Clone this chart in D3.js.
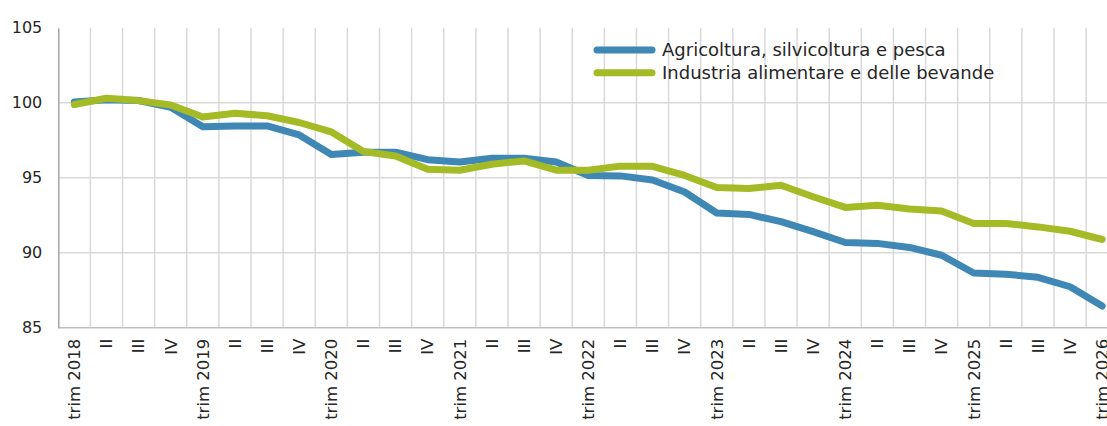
<!DOCTYPE html>
<html>
<head>
<meta charset="utf-8">
<script src="https://cdn.jsdelivr.net/npm/d3@7"></script>
<style>
  body { margin: 0; background: #fff; }
  svg { display: block; font-family: "DejaVu Sans", sans-serif; }
</style>
</head>
<body>
<div id="chart"></div>
<script>
// quarters I trim 2018 .. I trim 2026
const years = [2018, 2019, 2020, 2021, 2022, 2023, 2024, 2025, 2026]
const quarterNames = ["I", "II", "III", "IV"]

let quarters = []
years.forEach(y => {
    quarterNames.forEach((q, j) => {
        if (y == 2026 && j > 0) return
        quarters.push(j == 0 ? "I trim " + y : q)
    })
})

const agricoltura = [100.05, 100.2, 100.15, 99.7, 98.4, 98.45, 98.45, 97.85, 96.55, 96.7, 96.7, 96.2,
    96.05, 96.3, 96.3, 96.05, 95.15, 95.12, 94.85, 94.05, 92.65, 92.55, 92.07, 91.4,
    90.68, 90.62, 90.35, 89.83, 88.65, 88.57, 88.36, 87.73, 86.45]
const industria = [99.88, 100.3, 100.14, 99.85, 99.05, 99.3, 99.13, 98.68, 98.05, 96.75, 96.45, 95.56,
    95.5, 95.9, 96.12, 95.5, 95.5, 95.77, 95.76, 95.15, 94.35, 94.28, 94.5, 93.73,
    93.02, 93.17, 92.92, 92.78, 91.95, 91.95, 91.72, 91.43, 90.88]

const yTicks = [85, 90, 95, 100, 105]

const seriesNames = ["Agricoltura, silvicoltura e pesca", "Industria alimentare e delle bevande"]
const colors = ["#3f88b6", "#a5bb26"]

let margin = {top: 27.7, left: 58.3}
let width = 1107
let height = 426
let plotBottom = 327.7
let band = 32.12

let svg = d3.select("#chart")
    .append("svg")
    .attr("width", width)
    .attr("height", height)

let xScale = d3.scaleBand()
    .domain(d3.range(quarters.length))
    .range([margin.left, margin.left + band * quarters.length])
    .padding(0)

let yScale = d3.scaleLinear()
    .domain([85, 105])
    .range([plotBottom, margin.top])

// vertical gridlines at band boundaries
svg.append("g")
    .selectAll("line")
    .data(d3.range(1, quarters.length + 1))
    .join("line")
    .attr("x1", d => xScale.step() * d + margin.left)
    .attr("x2", d => xScale.step() * d + margin.left)
    .attr("y1", margin.top)
    .attr("y2", plotBottom)
    .attr("stroke", "#d9d9d9")
    .attr("stroke-width", 1.5)

// horizontal gridlines
svg.append("g")
    .selectAll("line")
    .data(yTicks.filter(d => d > 85 && d < 105))
    .join("line")
    .attr("x1", margin.left)
    .attr("x2", width)
    .attr("y1", d => yScale(d))
    .attr("y2", d => yScale(d))
    .attr("stroke", "#d9d9d9")
    .attr("stroke-width", 1.5)

// x axis line
svg.append("line")
    .attr("x1", margin.left)
    .attr("x2", width)
    .attr("y1", plotBottom)
    .attr("y2", plotBottom)
    .attr("stroke", "#bfbfbf")
    .attr("stroke-width", 1.5)

// y axis
let yAxis = svg.append("g")
    .attr("transform", "translate(" + margin.left + ",0)")
    .call(d3.axisLeft(yScale).tickValues(yTicks).tickSize(0).tickPadding(16))
yAxis.select(".domain").attr("stroke", "#a6a6a6").attr("stroke-width", 1.5)
yAxis.selectAll("text")
    .style("font-size", "16px")
    .style("font-family", "DejaVu Sans, sans-serif")
    .attr("fill", "#262626")

// x labels
svg.append("g")
    .selectAll("text")
    .data(quarters)
    .join("text")
    .attr("transform", (d, i) => "translate(" + (xScale(i) + xScale.bandwidth() / 2) + "," + (plotBottom + 11) + ") rotate(-90)")
    .attr("text-anchor", "end")
    .attr("dy", "0.35em")
    .style("font-size", "16.5px")
    .attr("fill", "#262626")
    .text(d => d)

let lineGen = d3.line()
    .x((d, i) => xScale(i) + xScale.bandwidth() / 2)
    .y(d => yScale(d))

svg.append("path")
    .attr("d", lineGen(agricoltura))
    .attr("stroke", colors[0])
    .attr("stroke-width", 7)
    .attr("stroke-linejoin", "round")
    .attr("stroke-linecap", "round")
    .attr("fill", "none")

svg.append("path")
    .attr("d", lineGen(industria))
    .attr("stroke", colors[1])
    .attr("stroke-width", 7)
    .attr("stroke-linejoin", "round")
    .attr("stroke-linecap", "round")
    .attr("fill", "none")

// legend
let legend = svg.append("g")
seriesNames.forEach((name, i) => {
    let y = 50 + i * 22.7
    legend.append("line")
        .attr("x1", 597)
        .attr("x2", 652)
        .attr("y1", y)
        .attr("y2", y)
        .attr("stroke", colors[i])
        .attr("stroke-width", 7)
        .attr("stroke-linecap", "round")
    legend.append("text")
        .attr("x", 662)
        .attr("y", y)
        .attr("dy", "0.35em")
        .style("font-size", "18px")
        .attr("fill", "#262626")
        .text(name)
})
</script>
</body>
</html>
